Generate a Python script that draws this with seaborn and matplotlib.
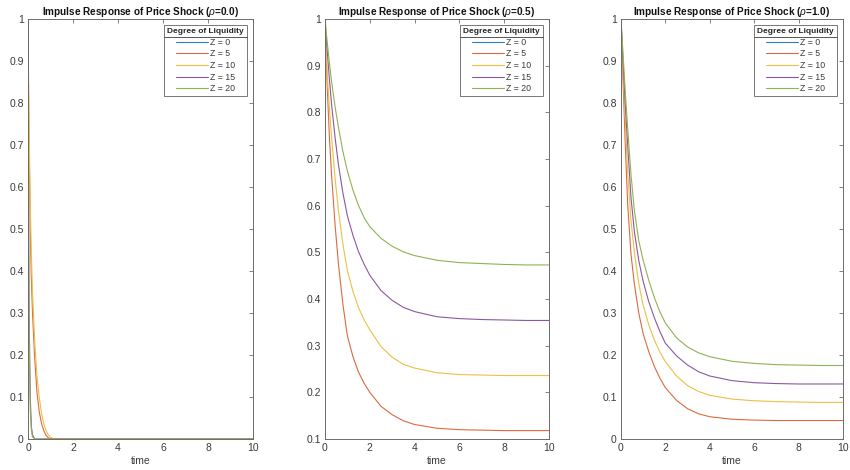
import numpy as np
import pandas as pd
import matplotlib
matplotlib.use("Agg")
import matplotlib.pyplot as plt
import seaborn as sns
from matplotlib.lines import Line2D
from matplotlib.ticker import FuncFormatter, MultipleLocator

sns.set_theme(style="white")
plt.rcParams['font.family'] = ['Liberation Sans', 'DejaVu Sans']
plt.rcParams['mathtext.fontset'] = 'custom'
plt.rcParams['mathtext.it'] = 'Liberation Sans:italic'
plt.rcParams['mathtext.rm'] = 'Liberation Sans'
plt.rcParams['mathtext.bf'] = 'Liberation Sans:bold'

# ---------------- data ----------------
Z_LEVELS = [0, 5, 10, 15, 20]
Z_LABELS = ["Z = 0", "Z = 5", "Z = 10", "Z = 15", "Z = 20"]
RHO_LABELS = ["0.0", "0.5", "1.0"]
X_TICKS = [0, 2, 4, 6, 8, 10]
LEGEND_TITLE = "Degree of Liquidity"

# The Z = 0 curve is not visible in any panel of the reference (legend only).
EMPTY_T = []
EMPTY_V = []

# rho = 0.0
TIME_R0 = [0, 0.02, 0.05, 0.1, 0.15, 0.2, 0.3, 0.4, 0.5, 0.6, 0.7, 0.8, 0.9,
           1.0, 1.1, 1.25, 1.5, 2, 4, 6, 8, 10]
R0_Z5 = [1, 0.86, 0.70, 0.50, 0.38, 0.30, 0.19, 0.11, 0.065, 0.037, 0.020, 0.009,
         0.003, 0.0, 0, 0, 0, 0, 0, 0, 0, 0]
R0_Z10 = [1, 0.88, 0.74, 0.56, 0.44, 0.35, 0.23, 0.15, 0.098, 0.062, 0.037, 0.020,
          0.010, 0.004, 0.001, 0, 0, 0, 0, 0, 0, 0]
R0_Z15 = [1, 0.60, 0.30, 0.10, 0.03, 0.01, 0, 0, 0, 0, 0, 0, 0, 0, 0, 0, 0, 0, 0, 0, 0, 0]
R0_Z20 = [1, 0.55, 0.25, 0.07, 0.02, 0.005, 0, 0, 0, 0, 0, 0, 0, 0, 0, 0, 0, 0, 0, 0, 0, 0]

# rho = 0.5 and rho = 1.0
TIME = [0, 0.1, 0.2, 0.3, 0.45, 0.6, 0.8, 1.0, 1.25, 1.5, 1.75, 2.0, 2.5, 3.0,
        3.5, 4.0, 5.0, 6.0, 7.0, 8.0, 9.0, 10.0]
R5_Z5 = [1.0, 0.853, 0.743, 0.661, 0.559, 0.475, 0.388, 0.321, 0.276, 0.243, 0.219,
         0.200, 0.170, 0.152, 0.139, 0.131, 0.123, 0.120, 0.119, 0.118, 0.118, 0.118]
R5_Z10 = [1.0, 0.881, 0.807, 0.743, 0.659, 0.590, 0.517, 0.461, 0.416, 0.381, 0.355,
          0.334, 0.298, 0.275, 0.260, 0.252, 0.242, 0.238, 0.237, 0.236, 0.236, 0.236]
R5_Z15 = [1.0, 0.931, 0.869, 0.814, 0.746, 0.688, 0.627, 0.578, 0.536, 0.501, 0.474,
          0.451, 0.418, 0.397, 0.382, 0.373, 0.362, 0.358, 0.356, 0.355, 0.354, 0.354]
R5_Z20 = [1.0, 0.950, 0.904, 0.863, 0.812, 0.768, 0.716, 0.674, 0.633, 0.600, 0.574,
          0.555, 0.530, 0.513, 0.501, 0.493, 0.483, 0.478, 0.476, 0.474, 0.473, 0.473]

R1_Z5 = [1.0, 0.84, 0.69, 0.56, 0.44, 0.37, 0.30, 0.25, 0.208, 0.173, 0.145, 0.122,
         0.092, 0.072, 0.060, 0.053, 0.047, 0.045, 0.044, 0.044, 0.044, 0.044]
R1_Z10 = [1.0, 0.87, 0.75, 0.635, 0.52, 0.445, 0.37, 0.318, 0.272, 0.236, 0.207, 0.184,
          0.150, 0.127, 0.113, 0.104, 0.095, 0.091, 0.089, 0.088, 0.087, 0.087]
R1_Z15 = [1.0, 0.89, 0.79, 0.70, 0.575, 0.495, 0.425, 0.375, 0.327, 0.289, 0.256, 0.228,
          0.198, 0.176, 0.160, 0.150, 0.139, 0.134, 0.132, 0.131, 0.131, 0.131]
R1_Z20 = [1.0, 0.91, 0.82, 0.74, 0.63, 0.545, 0.472, 0.425, 0.378, 0.337, 0.303, 0.276,
          0.241, 0.219, 0.205, 0.196, 0.185, 0.180, 0.177, 0.176, 0.175, 0.175]

Y_LIMITS = [(0, 1), (0.1, 1), (0, 1)]

PANELS = [
    [(EMPTY_T, EMPTY_V), (TIME_R0, R0_Z5), (TIME_R0, R0_Z10), (TIME_R0, R0_Z15), (TIME_R0, R0_Z20)],
    [(EMPTY_T, EMPTY_V), (TIME, R5_Z5), (TIME, R5_Z10), (TIME, R5_Z15), (TIME, R5_Z20)],
    [(EMPTY_T, EMPTY_V), (TIME, R1_Z5), (TIME, R1_Z10), (TIME, R1_Z15), (TIME, R1_Z20)],
]

COLORS = ["#2f7fc0", "#dc6a40", "#ebc045", "#8a58a2", "#90b252"]
palette = dict(zip(Z_LABELS, COLORS))

# ---------------- figure ----------------
fig = plt.figure(figsize=(8.5, 4.7), dpi=100)
fig.patch.set_facecolor("white")
positions = [
    [28 / 850, 31 / 470, 225 / 850, 420 / 470],
    [325 / 850, 31 / 470, 224 / 850, 420 / 470],
    [621 / 850, 31 / 470, 222 / 850, 420 / 470],
]
spine_col = "#6b6b6b"
text_col = "#3a3a3a"


def fmt(v, p):
    s = f"{v:.1f}".rstrip("0").rstrip(".")
    return "0" if s in ("0", "-0") else s


legends = []
for i, pos in enumerate(positions):
    ax = fig.add_axes(pos)
    rows = []
    for lab, (tt, vv) in zip(Z_LABELS, PANELS[i]):
        for t, v in zip(tt, vv):
            rows.append({"time": t, "value": v, "Z": lab})
    df = pd.DataFrame(rows)
    sns.lineplot(data=df, x="time", y="value", hue="Z", hue_order=Z_LABELS,
                 palette=palette, estimator=None, sort=False, legend=False,
                 linewidth=0.8, ax=ax)
    ax.set_xlim(0, 10)
    ax.set_ylim(*Y_LIMITS[i])
    ax.set_xticks(X_TICKS)
    ax.yaxis.set_major_locator(MultipleLocator(0.1))
    ax.yaxis.set_major_formatter(FuncFormatter(fmt))
    ax.xaxis.set_major_formatter(FuncFormatter(lambda v, p: f"{v:g}"))
    ax.tick_params(direction="in", length=3, width=0.6, top=True, right=True,
                   labelsize=7.5, colors=spine_col, labelcolor=text_col, pad=3)
    for s in ax.spines.values():
        s.set_color(spine_col)
        s.set_linewidth(0.7)
    ax.set_xlabel("time", fontsize=7.5, color=text_col, labelpad=2)
    ax.set_ylabel("")
    ax.set_title(f"Impulse Response of Price Shock ($\\rho$={RHO_LABELS[i]})",
                 fontsize=7.2, fontweight="bold", color="#111111", pad=3)
    handles = [Line2D([], [], color=c, lw=0.8) for c in COLORS]
    leg = ax.legend(handles, Z_LABELS, loc="upper right", fontsize=6.3,
                    title=LEGEND_TITLE,
                    title_fontproperties={"weight": "bold", "size": 6.0},
                    frameon=True, fancybox=False, edgecolor="#555555",
                    handlelength=3.6, handletextpad=0.2, labelspacing=0.3,
                    borderpad=0.35, borderaxespad=0.7)
    leg.get_frame().set_linewidth(0.7)
    for txt in leg.get_texts():
        txt.set_color(text_col)
    legends.append(leg)

fig.canvas.draw()
inv = fig.transFigure.inverted()
for leg in legends:
    bb = leg.get_window_extent()
    tb = leg.get_title().get_window_extent()
    y = tb.y0 - 2
    (x0, yy), (x1, _) = inv.transform([(bb.x0, y), (bb.x1, y)])
    fig.add_artist(Line2D([x0, x1], [yy, yy], transform=fig.transFigure,
                          color="#555555", lw=0.7))

fig.savefig("out.png", dpi=100, facecolor="white")
